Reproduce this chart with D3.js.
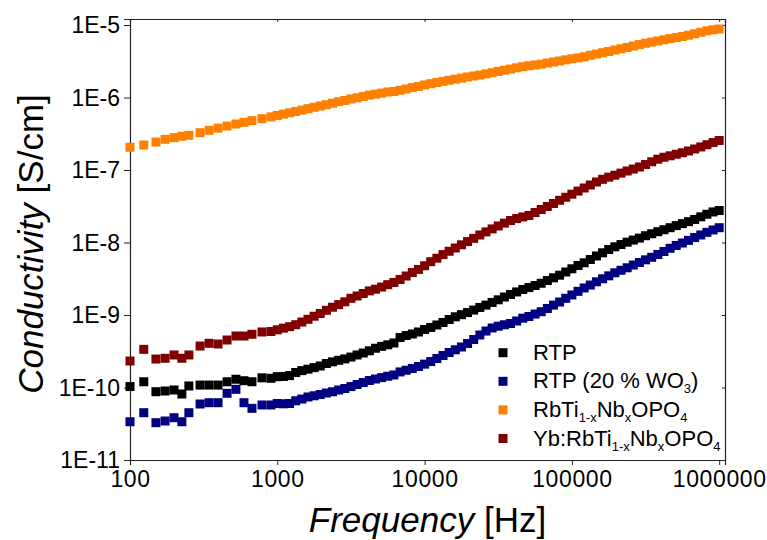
<!DOCTYPE html>
<html><head><meta charset="utf-8">
<script src="https://cdn.jsdelivr.net/npm/d3@7"></script>
<style>
body{margin:0;background:#fff}
text{font-family:"Liberation Sans",Arial,Helvetica,sans-serif;fill:#000}
</style>
</head><body>
<svg id="chart" width="767" height="540"></svg>
<script>
// ---------- data ----------
const frequencies = [100,124,150,173,199,225,251,299,344,396,456,524,594,673,787,906,
  1000,1101,1212,1334,1468,1616,1778,1957,2154,2371,2610,2873,3162,3481,3831,4217,4642,5109,5623,6190,6813,7499,8254,9085,
  10000,11007,12115,13335,14678,16156,17783,19573,21544,23714,26102,28730,31623,34807,38312,42170,46416,51090,56234,61897,68129,74989,82540,90851,
  100000,110070,121150,133350,146780,161560,177830,195730,215440,237140,261020,287300,316230,348070,383120,421700,464160,510900,562340,618970,681290,749890,825400,908510,1000000];

const rtp = [1.03e-10,1.20e-10,8.75e-11,8.95e-11,9.24e-11,8.13e-11,1.05e-10,1.08e-10,1.08e-10,1.08e-10,1.20e-10,1.30e-10,1.24e-10,1.20e-10,1.36e-10,1.34e-10,
  1.41e-10,1.42e-10,1.46e-10,1.61e-10,1.71e-10,1.79e-10,1.88e-10,1.98e-10,2.14e-10,2.26e-10,2.37e-10,2.48e-10,2.63e-10,2.81e-10,2.99e-10,3.21e-10,3.48e-10,3.69e-10,3.88e-10,4.11e-10,4.89e-10,5.21e-10,5.47e-10,5.83e-10,
  6.31e-10,6.73e-10,7.28e-10,7.88e-10,8.67e-10,9.44e-10,1.01e-9,1.08e-9,1.17e-9,1.27e-9,1.37e-9,1.49e-9,1.62e-9,1.77e-9,1.92e-9,2.08e-9,2.25e-9,2.39e-9,2.55e-9,2.74e-9,2.99e-9,3.26e-9,3.54e-9,3.92e-9,
  4.34e-9,4.82e-9,5.25e-9,5.83e-9,6.52e-9,7.21e-9,8.00e-9,8.72e-9,9.38e-9,1.01e-8,1.08e-8,1.15e-8,1.24e-8,1.32e-8,1.41e-8,1.50e-8,1.60e-8,1.71e-8,1.82e-8,1.94e-8,2.08e-8,2.26e-8,2.45e-8,2.64e-8,2.76e-8];

const rtpWO3 = [3.37e-11,4.49e-11,3.27e-11,3.45e-11,3.83e-11,3.37e-11,4.49e-11,5.92e-11,6.17e-11,6.17e-11,8.32e-11,9.44e-11,6.17e-11,5.16e-11,5.74e-11,5.74e-11,
  6.01e-11,5.96e-11,6.01e-11,6.56e-11,6.93e-11,7.40e-11,7.69e-11,8.00e-11,8.40e-11,8.73e-11,9.24e-11,9.69e-11,1.03e-10,1.10e-10,1.17e-10,1.25e-10,1.31e-10,1.37e-10,1.43e-10,1.49e-10,1.64e-10,1.73e-10,1.83e-10,1.95e-10,
  2.10e-10,2.28e-10,2.51e-10,2.76e-10,3.04e-10,3.31e-10,3.62e-10,4.05e-10,4.59e-10,5.30e-10,6.01e-10,6.62e-10,7.01e-10,7.33e-10,7.64e-10,8.26e-10,9.04e-10,9.53e-10,1.03e-9,1.11e-9,1.23e-9,1.37e-9,1.51e-9,1.70e-9,
  1.89e-9,2.12e-9,2.36e-9,2.59e-9,2.87e-9,3.16e-9,3.47e-9,3.82e-9,4.14e-9,4.48e-9,4.89e-9,5.30e-9,5.77e-9,6.25e-9,6.83e-9,7.51e-9,8.32e-9,9.10e-9,9.84e-9,1.07e-8,1.17e-8,1.27e-8,1.38e-8,1.49e-8,1.60e-8];

const rbTiNb = [2.06e-7,2.21e-7,2.43e-7,2.65e-7,2.79e-7,2.92e-7,3.01e-7,3.27e-7,3.53e-7,3.78e-7,4.04e-7,4.31e-7,4.55e-7,4.79e-7,5.10e-7,5.40e-7,
  5.65e-7,5.90e-7,6.15e-7,6.41e-7,6.70e-7,7.01e-7,7.33e-7,7.64e-7,7.96e-7,8.34e-7,8.75e-7,9.10e-7,9.53e-7,9.91e-7,1.03e-6,1.08e-6,1.11e-6,1.15e-6,1.19e-6,1.21e-6,1.26e-6,1.31e-6,1.37e-6,1.42e-6,
  1.49e-6,1.55e-6,1.61e-6,1.67e-6,1.73e-6,1.79e-6,1.85e-6,1.92e-6,1.98e-6,2.04e-6,2.12e-6,2.20e-6,2.29e-6,2.38e-6,2.47e-6,2.57e-6,2.66e-6,2.74e-6,2.81e-6,2.88e-6,2.99e-6,3.09e-6,3.19e-6,3.31e-6,
  3.42e-6,3.52e-6,3.64e-6,3.83e-6,3.98e-6,4.15e-6,4.31e-6,4.52e-6,4.70e-6,4.90e-6,5.13e-6,5.37e-6,5.60e-6,5.81e-6,6.02e-6,6.25e-6,6.49e-6,6.70e-6,6.94e-6,7.23e-6,7.57e-6,7.93e-6,8.32e-6,8.59e-6,8.81e-6];

const ybRbTiNb = [2.32e-10,3.36e-10,2.47e-10,2.53e-10,2.81e-10,2.53e-10,2.81e-10,3.73e-10,4.07e-10,3.98e-10,4.52e-10,5.13e-10,5.13e-10,5.42e-10,5.83e-10,5.92e-10,
  6.25e-10,6.58e-10,6.90e-10,7.35e-10,8.00e-10,8.72e-10,9.62e-10,1.05e-9,1.16e-9,1.28e-9,1.39e-9,1.52e-9,1.70e-9,1.83e-9,1.98e-9,2.15e-9,2.27e-9,2.43e-9,2.62e-9,2.81e-9,3.09e-9,3.45e-9,3.85e-9,4.25e-9,
  4.78e-9,5.44e-9,6.07e-9,6.81e-9,7.57e-9,8.40e-9,9.29e-9,1.03e-8,1.14e-8,1.27e-8,1.40e-8,1.54e-8,1.69e-8,1.85e-8,2.01e-8,2.14e-8,2.25e-8,2.36e-8,2.59e-8,2.85e-8,3.14e-8,3.45e-8,3.82e-8,4.21e-8,
  4.64e-8,5.12e-8,5.65e-8,6.21e-8,6.83e-8,7.44e-8,7.96e-8,8.48e-8,9.06e-8,9.69e-8,1.03e-7,1.10e-7,1.19e-7,1.30e-7,1.41e-7,1.50e-7,1.57e-7,1.65e-7,1.73e-7,1.83e-7,1.95e-7,2.08e-7,2.23e-7,2.39e-7,2.55e-7];

const xTickValues = [100,1000,10000,100000,1000000];
const xTickLabels = ["100","1000","10000","100000","1000000"];
const yTickValues = [1e-11,1e-10,1e-9,1e-8,1e-7,1e-6,1e-5];
const yTickLabels = ["1E-11","1E-10","1E-9","1E-8","1E-7","1E-6","1E-5"];

// legend labels as [text, isSubscript] segments
const seriesLabels = [
  [["RTP",0]],
  [["RTP (20 % WO",0],["3",1],[")",0]],
  [["RbTi",0],["1-x",1],["Nb",0],["x",1],["OPO",0],["4",1]],
  [["Yb:RbTi",0],["1-x",1],["Nb",0],["x",1],["OPO",0],["4",1]]
];
const seriesValues = [rtp, rtpWO3, rbTiNb, ybRbTiNb];
const seriesColors = ["#000000","#000080","#FF8000","#800000"];

// ---------- layout ----------
const W = 767, H = 540;
const m = {left:130, right:42, top:19, bottom:80};
const iw = W - m.left - m.right, ih = H - m.top - m.bottom;

const x = d3.scaleLog().domain([100, 1.095e6]).range([0, iw]);
const y = d3.scaleLog().domain([1e-11, 1.21e-5]).range([ih, 0]);

const svg = d3.select("#chart");
const g = svg.append("g").attr("transform", `translate(${m.left},${m.top})`);

const fmtX = d => xTickLabels[xTickValues.indexOf(d)];
const fmtY = d => { const i = yTickValues.findIndex(v => Math.abs(v - d) / v < 1e-6); return i >= 0 ? yTickLabels[i] : ""; };

const xAxis = g.append("g").attr("transform", `translate(0,${ih})`)
  .call(d3.axisBottom(x).tickValues(xTickValues).tickFormat(fmtX).tickSizeOuter(0).tickSize(5).tickPadding(5));
const yAxis = g.append("g")
  .call(d3.axisLeft(y).tickValues(yTickValues).tickFormat(fmtY).tickSizeOuter(0).tickSize(6).tickPadding(4));
const topAxis = g.append("g")
  .call(d3.axisBottom(x).tickValues(xTickValues).tickFormat("").tickSizeOuter(0).tickSize(3));
const rightAxis = g.append("g").attr("transform", `translate(${iw},0)`)
  .call(d3.axisLeft(y).tickValues(yTickValues).tickFormat("").tickSizeOuter(0).tickSize(3));

[xAxis, yAxis, topAxis, rightAxis].forEach(a => {
  a.select(".domain").attr("stroke", "#222").attr("stroke-width", 1.2);
  a.selectAll(".tick line").attr("stroke", "#222").attr("stroke-width", 1);
  a.selectAll(".tick text").attr("font-size", 23).attr("fill", "#000")
    .style("font-family", '"Liberation Sans",Arial,sans-serif');
});
xAxis.selectAll(".tick text").attr("dy", "0.72em").attr("letter-spacing", "0.6px");
yAxis.selectAll(".tick text").attr("dy", "0.34em");

// data points
seriesValues.forEach((vals, si) => {
  const pts = frequencies.map((f, i) => [f, vals[i]]).filter(p => p[1] != null);
  const s = 9;
  g.append("g").selectAll("rect").data(pts).join("rect")
    .attr("x", d => x(d[0]) - s / 2)
    .attr("y", d => y(d[1]) - s / 2)
    .attr("width", s).attr("height", s)
    .attr("fill", seriesColors[si]);
});

// legend
const lg = svg.append("g");
seriesLabels.forEach((segs, i) => {
  const cy = 352.7 + i * 28.6;
  lg.append("rect").attr("x", 503 - 4.5).attr("y", cy - 4.5).attr("width", 9).attr("height", 9)
    .attr("fill", seriesColors[i]);
  const t = lg.append("text").attr("x", 533).attr("y", cy + 7).attr("font-size", 22);
  let sub = false;
  segs.forEach(([txt, isSub]) => {
    const ts = t.append("tspan").text(txt);
    if (isSub && !sub) { ts.attr("font-size", 13).attr("dy", 5); sub = true; }
    else if (!isSub && sub) { ts.attr("dy", -5); sub = false; }
    else if (isSub) { ts.attr("font-size", 13); }
  });
});

// axis titles
const xt = svg.append("text").attr("x", m.left + iw / 2).attr("y", 532)
  .attr("text-anchor", "middle").attr("font-size", 35);
xt.append("tspan").attr("font-style", "italic").text("Frequency");
xt.append("tspan").text(" [Hz]");

const yt = svg.append("text").attr("transform", "translate(43,244) rotate(-90)")
  .attr("text-anchor", "middle").attr("font-size", 35);
yt.append("tspan").attr("font-style", "italic").text("Conductivity");
yt.append("tspan").text(" [S/cm]");
</script>
</body></html>
